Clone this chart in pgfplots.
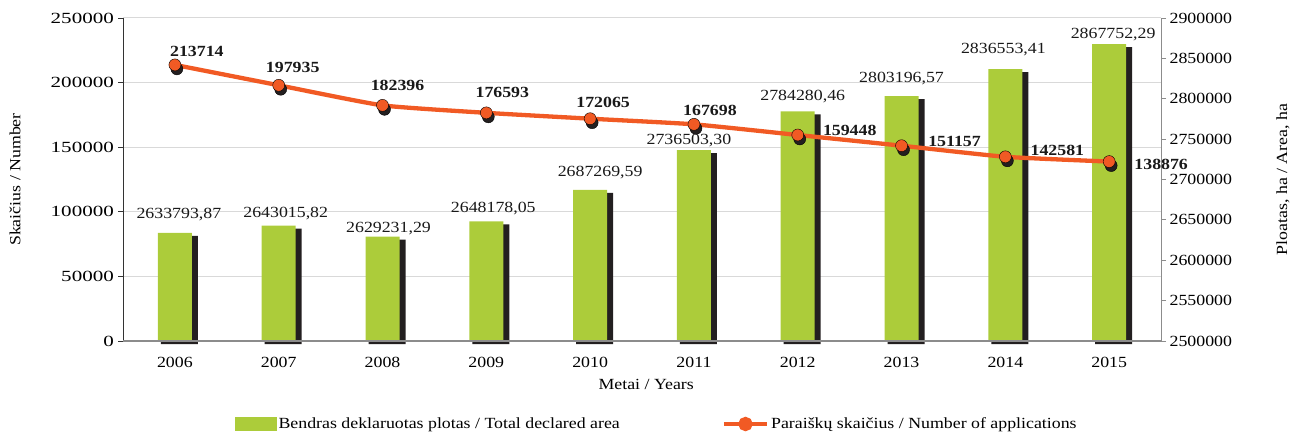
\documentclass[border=0pt]{standalone}
\usepackage{fontspec}
\setmainfont{Liberation Serif}[FakeStretch=1.15]
\usepackage{graphicx}
\usepackage{pgfplots}
\pgfplotsset{compat=1.18}
\usepackage{pgfplotstable}
\definecolor{barg}{RGB}{172,204,58}
\definecolor{linec}{RGB}{241,90,36}
\definecolor{shad}{RGB}{35,31,32}
\newcommand\fs{\fontsize{15.5}{18}\selectfont}

\pgfplotstableread{
x y dx dy lab
0 2633793.87 4 18.5 2633793,87
1 2643015.82 7 12.2 2643015,82
2 2629231.29 6 8.5 2629231,29
3 2648178.05 7 12.5 2648178,05
4 2687269.59 10 17.5 2687269,59
5 2736503.30 -5 9.8 2736503,30
6 2784280.46 5 14.5 2784280,46
7 2803196.57 0 18 2803196,57
8 2836553.41 -2 20 2836553,41
9 2867752.29 4 10 2867752,29
}\bardata

\pgfplotstableread{
x y dx dy lab
0 213714 22 13 213714
1 197935 14 18 197935
2 182396 15 20 182396
3 176593 16 20 176593
4 172065 13 16 172065
5 167698 16 14 167698
6 159448 52 4.5 159448
7 151157 53 4 151157
8 142581 52 6.7 142581
9 138876 52 -3 138876
}\linedata

\begin{document}
\begin{tikzpicture}[x=1pt,y=1pt]
\path[use as bounding box] (0,0) rectangle (1295,434);
\pgfplotsset{base/.style={at={(123pt,93pt)}, anchor=south west, scale only axis,
  width=1038pt, height=323pt, xmin=-0.5, xmax=9.5}}
% axis 1: left axis, grid, x labels
\begin{axis}[base, ymin=0, ymax=250000,
  axis x line*=bottom, axis y line*=left,
  xtick={0,1,2,3,4,5,6,7,8,9},
  xticklabels={2006,2007,2008,2009,2010,2011,2012,2013,2014,2015},
  xtick style={draw=none},
  xticklabel style={font=\fs, yshift=-8pt},
  ytick={0,50000,100000,150000,200000,250000},
  scaled y ticks=false,
  yticklabel style={font=\fs, /pgf/number format/fixed, /pgf/number format/1000 sep={},
    /pgf/number format/assume math mode=true, xscale=1.18},
  ymajorgrids, grid style={draw=black!15, line width=1pt},
  y axis line style={draw=black!80, line width=0.8pt},
  x axis line style={draw=none},
  ytick style={draw=black!80, line width=0.8pt},
  tick align=outside, major tick length=5pt,
  ylabel={Skaičius / Number},
  ylabel style={font=\fs, at={(axis description cs:-0.104,0.5)}, anchor=center},
  xlabel={Metai / Years},
  xlabel style={font=\fs, at={(axis description cs:0.504,-0.136)}, anchor=center},
]
\addplot[draw=none, forget plot] coordinates {(0,0)};
\end{axis}
% axis 2: bars on right axis
\begin{axis}[base, ymin=2500000, ymax=2900000, clip=false, axis on top,
  axis x line*=bottom, axis y line*=right,
  xtick=\empty,
  ytick={2500000,2550000,2600000,2650000,2700000,2750000,2800000,2850000,2900000},
  scaled y ticks=false,
  yticklabel style={font=\fs, /pgf/number format/fixed, /pgf/number format/1000 sep={},
    /pgf/number format/assume math mode=true},
  x axis line style={draw=black!45, line width=2pt},
  y axis line style={draw=black!45, line width=0.8pt},
  ytick style={draw=black!45, line width=0.8pt},
  tick align=outside, major tick length=5pt,
  ylabel={Ploatas, ha / Area, ha},
  ylabel style={font=\fs, at={(axis description cs:1.1175,0.5)}, anchor=center},
  ybar,
]
\addplot[ybar, bar width=37pt, bar shift=4.5pt, fill=shad, draw=none, yshift=-3pt]
  table[x=x,y=y] {\bardata};
\addplot[ybar, bar width=34pt, bar shift=0pt, fill=barg, draw=none,
  nodes near coords, point meta=explicit symbolic,
  visualization depends on={\thisrow{dx}\as\bdx},
  visualization depends on={\thisrow{dy}\as\bdy},
  nodes near coords style={font=\fs, text=black!90, anchor=center, xshift=\bdx pt, yshift=\bdy pt}]
  table[x=x,y=y,meta=lab] {\bardata};
\end{axis}
% axis 3: line
\begin{axis}[base, ymin=0, ymax=250000, hide axis, clip=false,
  legend columns=2,
  legend style={at={(axis description cs:0.1079,-0.257)}, anchor=west, draw=none, fill=none,
    font=\fs, inner sep=0pt, nodes={inner sep=2pt},
    /tikz/every even column/.append style={column sep=100pt}},
]
\addlegendimage{legend image code/.code={\fill[barg] (0pt,-6.5pt) rectangle (41pt,6.5pt);}}
\addlegendentry{Bendras deklaruotas plotas / Total declared area}
\addplot[only marks, mark=*, mark size=6pt, mark options={fill=shad, draw=none, xshift=2pt, yshift=-4pt}, forget plot]
  table[x=x,y=y] {\linedata};
\addplot[linec, line width=4.3pt, smooth, tension=0.3, mark=none,
  legend image code/.code={\draw[linec, line width=4.3pt] (0pt,0pt) -- (43pt,0pt); \fill[linec] (21.5pt,0pt) circle (5pt);}]
  table[x=x,y=y] {\linedata};
\addlegendentry{Paraiškų skaičius / Number of applications}
\addplot[only marks, mark=*, mark size=6pt, mark options={fill=linec, draw=none}, forget plot]
  table[x=x,y=y] {\linedata};
\addplot[only marks, mark=*, mark size=0pt, mark options={draw=none, fill=none}, forget plot,
  nodes near coords, point meta=explicit symbolic,
  visualization depends on={\thisrow{dx}\as\ldx},
  visualization depends on={\thisrow{dy}\as\ldy},
  nodes near coords style={font=\fs\bfseries, text=black!90, anchor=center, xshift=\ldx pt, yshift=\ldy pt}]
  table[x=x,y=y,meta=lab] {\linedata};
\end{axis}
\end{tikzpicture}
\end{document}
